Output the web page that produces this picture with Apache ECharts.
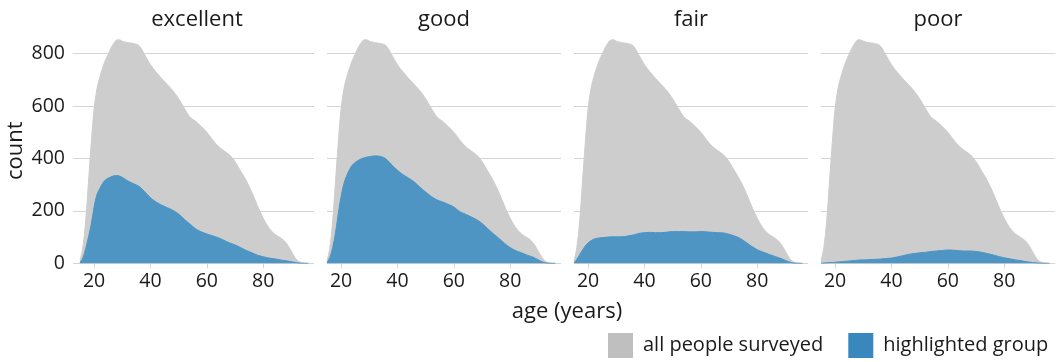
<!DOCTYPE html>
<html>
<head>
<meta charset="utf-8">
<script src="https://cdn.jsdelivr.net/npm/echarts@6/dist/echarts.min.js"></script>
<style>
html,body{margin:0;padding:0;background:#fff;}
#chart{width:1060px;height:362px;}
</style>
</head>
<body>
<div id="chart"></div>
<script>
// ---- data ----
const panels = ["excellent", "good", "fair", "poor"];
const ages = [15,16,17,18,19,20,21,22,23,24,25,26,27,28,29,30,32,34,36,38,40,42,44,46,48,50,52,54,56,58,60,62,64,66,68,70,72,74,76,78,80,82,84,86,88,90,92,94,96];
const allPeople = [10,60,160,310,460,590,665,710,745,775,798,822,840,852,853,848,842,839,830,795,758,730,705,682,658,628,592,558,542,522,500,472,447,430,414,388,352,315,270,218,172,135,112,98,80,45,12,2,0];
const excellent = [3,20,55,100,150,215,262,285,305,318,325,330,334,335,333,328,314,304,293,273,250,234,222,212,202,188,168,150,132,120,112,105,98,88,78,70,60,49,40,31,25,20,17,13,10,6,2,0,0];
const good = [3,22,60,115,190,255,305,335,358,375,385,392,398,402,405,407,410,408,398,375,355,338,325,310,290,272,255,242,234,225,215,198,188,178,167,152,132,113,95,76,60,48,40,31,24,13,3,0,0];
const fair = [2,15,33,50,66,78,86,92,95,97,98,99,100,101,101,101,101,104,108,114,117,118,117,117,119,121,121,121,120,120,121,120,118,117,116,111,104,95,80,65,52,43,35,27,20,11,3,0,0];
const poor = [0,1,2,3,3,4,5,6,7,8,9,10,11,12,13,13,14,15,16,18,20,24,29,34,37,40,42,45,47,49,51,50,48,47,47,45,42,37,32,26,21,17,13,10,6,3,1,0,0];
const groups = [excellent, good, fair, poor];
const xTicks = [20, 40, 60, 80];
const yTicks = [0, 200, 400, 600, 800];
const legendNames = ["all people surveyed", "highlighted group"];

// ---- layout / style ----
const FONT = "Open Sans";
const GREY_AREA = "#cdcdcd", BLUE_AREA = "#4e95c3";
const GREY_KEY = "#bfbfbf", BLUE_KEY = "#3988bd";
const GRID_COLOR = "#d4d4d4";
const TEXT = "#1a1a1a";
const panelLeft = [80, 327, 574, 821];
const panelWidth = 234;
const gridTop = 38, gridHeight = 225.3;

const grids = [], xAxes = [], yAxes = [], seriesList = [], graphics = [];
panels.forEach((p, i) => {
  grids.push({left: panelLeft[i], top: gridTop, width: panelWidth, height: gridHeight});
  xAxes.push({
    type: "value", gridIndex: i, min: 15, max: 98,
    axisLine: {show: false},
    splitLine: {show: false},
    axisTick: {show: true, length: 5, customValues: xTicks, lineStyle: {color: GRID_COLOR, width: 1}},
    axisLabel: {customValues: xTicks, margin: 8, fontFamily: FONT, fontSize: 19.5, color: TEXT}
  });
  yAxes.push({
    type: "value", gridIndex: i, min: 0, max: 860, interval: 200,
    axisLine: {show: false},
    axisTick: {show: i === 0, length: 7, customValues: yTicks, lineStyle: {color: GRID_COLOR, width: 1}},
    axisLabel: {show: i === 0, customValues: yTicks, margin: 15, fontFamily: FONT, fontSize: 19.5, color: TEXT},
    splitLine: {show: true, lineStyle: {color: GRID_COLOR, width: 1.2}},
    name: i === 0 ? "count" : "",
    nameLocation: "middle", nameGap: 53,
    nameTextStyle: {fontFamily: FONT, fontSize: 22, color: TEXT}
  });
  seriesList.push({
    name: legendNames[0], type: "line", xAxisIndex: i, yAxisIndex: i,
    data: ages.map((a, k) => [a, allPeople[k]]),
    smooth: 0.35, showSymbol: false, silent: true,
    lineStyle: {width: 1, color: GREY_AREA}, itemStyle: {color: GREY_AREA},
    areaStyle: {color: GREY_AREA, opacity: 1}, z: 1
  });
  seriesList.push({
    name: legendNames[1], type: "line", xAxisIndex: i, yAxisIndex: i,
    data: ages.map((a, k) => [a, groups[i][k]]),
    smooth: 0.35, showSymbol: false, silent: true,
    lineStyle: {width: 1, color: BLUE_AREA}, itemStyle: {color: BLUE_AREA},
    areaStyle: {color: BLUE_AREA, opacity: 1}, z: 2
  });
  graphics.push({
    type: "text", x: panelLeft[i] + panelWidth / 2, y: 20,
    style: {text: p, textAlign: "center", textVerticalAlign: "middle", fontFamily: FONT, fontSize: 22, fill: TEXT}
  });
});
graphics.push({
  type: "text", x: 567, y: 312,
  style: {text: "age (years)", textAlign: "center", textVerticalAlign: "middle", fontFamily: FONT, fontSize: 22, fill: TEXT}
});

const chart = echarts.init(document.getElementById("chart"), null, {renderer: "canvas"});
chart.setOption({
  animation: false,
  backgroundColor: "#ffffff",
  grid: grids, xAxis: xAxes, yAxis: yAxes, series: seriesList,
  graphic: graphics,
  legend: {
    left: 608, top: 333, padding: 0, icon: "rect", itemWidth: 25, itemHeight: 25, itemGap: 25,
    selectedMode: false,
    textStyle: {fontFamily: FONT, fontSize: 20, color: TEXT, padding: [0, 0, 0, 5]},
    data: [
      {name: legendNames[0], itemStyle: {color: GREY_KEY}},
      {name: legendNames[1], itemStyle: {color: BLUE_KEY}}
    ]
  }
});
</script>
</body>
</html>
